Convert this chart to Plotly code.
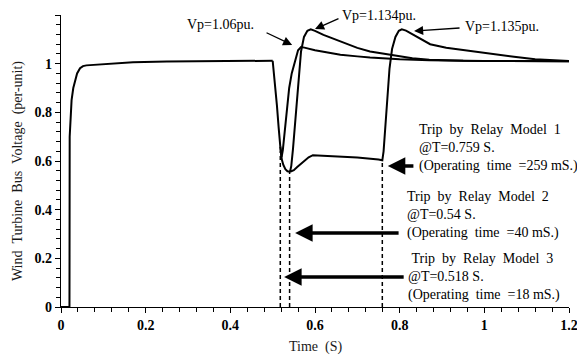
import plotly.graph_objects as go

# ---------------- data ----------------
pre_t = [0, 0.02, 0.0205, 0.022, 0.025, 0.029, 0.033, 0.038, 0.045, 0.052, 0.06, 0.08, 0.116, 0.17, 0.25, 0.35, 0.45, 0.5]
pre_v = [0, 0, 0.70, 0.78, 0.85, 0.90, 0.933, 0.96, 0.981, 0.99, 0.993, 0.995, 0.999, 1.006, 1.009, 1.01, 1.011, 1.012]

drop_t = [0.5, 0.505, 0.51, 0.514, 0.518]
drop_v = [1.012, 0.93, 0.83, 0.74, 0.66]

# Relay model 3 (trip at 0.518 s)
r3_t = [0.518, 0.521, 0.524, 0.528, 0.533, 0.539, 0.545, 0.55, 0.555, 0.56, 0.567, 0.575, 0.6, 0.63, 0.66, 0.7, 0.73, 0.8, 0.87, 1.0, 1.2]
r3_v = [0.66, 0.615, 0.645, 0.72, 0.82, 0.9, 0.96, 0.995, 1.03, 1.055, 1.068, 1.066, 1.055, 1.045, 1.037, 1.03, 1.025, 1.018, 1.014, 1.011, 1.01]

# common part of relay models 1 and 2
c12_t = [0.518, 0.521, 0.525, 0.53, 0.535, 0.541]
c12_v = [0.66, 0.61, 0.585, 0.566, 0.558, 0.556]

# Relay model 2 (trip at 0.54 s)
r2_t = [0.541, 0.544, 0.548, 0.553, 0.558, 0.562, 0.567, 0.574, 0.582, 0.59, 0.6, 0.62, 0.66, 0.7, 0.73, 0.78, 0.83, 0.87, 0.95, 1.2]
r2_v = [0.556, 0.58, 0.65, 0.755, 0.86, 0.96, 1.05, 1.11, 1.135, 1.141, 1.135, 1.118, 1.09, 1.065, 1.05, 1.035, 1.022, 1.016, 1.012, 1.01]

# Relay model 1 (trip at 0.759 s)
r1_t = [0.541, 0.55, 0.558, 0.565, 0.575, 0.585, 0.595, 0.65, 0.7, 0.75, 0.759, 0.762, 0.766, 0.771, 0.776, 0.782, 0.79, 0.798, 0.805, 0.815, 0.832, 0.85, 0.872, 0.91, 0.95, 0.99, 1.03, 1.07, 1.12, 1.2]
r1_v = [0.556, 0.562, 0.575, 0.585, 0.603, 0.615, 0.624, 0.62, 0.614, 0.606, 0.603, 0.64, 0.75, 0.88, 0.98, 1.06, 1.11, 1.135, 1.141, 1.136, 1.12, 1.1, 1.08, 1.065, 1.055, 1.047, 1.037, 1.028, 1.018, 1.011]

trip_times = [0.518, 0.54, 0.759]
trip_volts = [0.64, 0.556, 0.603]

x_ticks = [0, 0.2, 0.4, 0.6, 0.8, 1, 1.2]
x_ticklabels = ["0", "0.2", "0.4", "0.6", "0.8", "1", "1.2"]
y_ticks = [0, 0.2, 0.4, 0.6, 0.8, 1, 1.2]
y_ticklabels = ["0", "0.2", "0.4", "0.6", "0.8", "1", "1.2"]

peak_labels = ["Vp=1.06pu.", "Vp=1.134pu.", "Vp=1.135pu."]
trip_labels = [
    ["Trip  by  Relay  Model  1", "@T=0.759 S.", "(Operating  time  =259 mS.)"],
    ["Trip  by  Relay  Model  2", "@T=0.54 S.", "(Operating  time  =40 mS.)"],
    ["\u00a0Trip  by  Relay  Model  3", "@T=0.518 S.", "(Operating  time  =18 mS.)"],
]

SERIF = "Times New Roman, Liberation Serif, serif"

fig = go.Figure()

line_style = dict(color="black", width=2)
for tx, vy in [(pre_t, pre_v), (drop_t, drop_v), (r3_t, r3_v), (c12_t, c12_v), (r2_t, r2_v), (r1_t, r1_v)]:
    fig.add_trace(go.Scatter(x=tx, y=vy, mode="lines", line=line_style, showlegend=False, hoverinfo="skip"))

for tt, vv in zip(trip_times, trip_volts):
    fig.add_trace(go.Scatter(x=[tt, tt], y=[0, vv], mode="lines",
                             line=dict(color="black", width=1.5, dash="4px,3px"),
                             showlegend=False, hoverinfo="skip"))

def nb(s):
    return s.replace("  ", " \u00a0")

annotations = []
# peak labels
peak_pos = [(0.293, 1.159), (0.659, 1.196), (0.950, 1.151)]
for lab, (px, py) in zip(peak_labels, peak_pos):
    annotations.append(dict(x=px, y=py, xref="x", yref="y", text=lab, showarrow=False,
                            xanchor="left", yanchor="middle",
                            font=dict(family=SERIF, size=14, color="black")))
# peak arrows (tip, tail)
peak_arrows = [((0.546, 1.077), (0.482, 1.130)),
               ((0.600, 1.142), (0.659, 1.188)),
               ((0.834, 1.134), (0.945, 1.147))]
for (tx, ty), (ax, ay) in peak_arrows:
    annotations.append(dict(x=tx, y=ty, ax=ax, ay=ay, xref="x", yref="y", axref="x", ayref="y",
                            text="", showarrow=True, arrowhead=2, arrowsize=1.4, arrowwidth=1.3,
                            arrowcolor="black", standoff=0, startstandoff=0))
# trip text blocks
trip_pos = [(0.842, 0.653), (0.812, 0.378), (0.814, 0.123)]
for lines, (px, py) in zip(trip_labels, trip_pos):
    annotations.append(dict(x=px, y=py, xref="x", yref="y", text="<br>".join(nb(l) for l in lines),
                            showarrow=False, xanchor="left", yanchor="middle", align="left",
                            font=dict(family=SERIF, size=14, color="black")))
# trip arrows
trip_arrows = [((0.772, 0.579), (0.836, 0.579)),
               ((0.553, 0.304), (0.801, 0.304)),
               ((0.527, 0.123), (0.813, 0.123))]
for (tx, ty), (ax, ay) in trip_arrows:
    annotations.append(dict(x=tx, y=ty, ax=ax, ay=ay, xref="x", yref="y", axref="x", ayref="y",
                            text="", showarrow=True, arrowhead=2, arrowsize=1.0, arrowwidth=3.5,
                            arrowcolor="black", standoff=0, startstandoff=0))
# axis titles
annotations.append(dict(x=-0.085, y=0.465, xref="paper", yref="paper", textangle=-90,
                        text=nb("Wind  Turbine  Bus  Voltage  (per-unit)"), showarrow=False,
                        xanchor="center", yanchor="middle",
                        font=dict(family=SERIF, size=14, color="#1a1a1a")))
annotations.append(dict(x=0.502, y=-0.136, xref="paper", yref="paper",
                        text=nb("Time  (S)"), showarrow=False,
                        xanchor="center", yanchor="middle",
                        font=dict(family=SERIF, size=14, color="#1a1a1a")))

axis_common = dict(showgrid=False, zeroline=False, showline=True, linecolor="black", linewidth=1.3,
                   ticks="outside", ticklen=5, tickwidth=1.2, tickcolor="black",
                   tickfont=dict(family=SERIF, size=14, color="black", weight="bold"),
                   minor=dict(dtick=0.04, ticks="outside", ticklen=4, tickwidth=1, tickcolor="black"))

# the page body has an 8px margin, so the figure is sized/offset to compensate
fig.update_layout(
    width=577, height=348,
    margin=dict(l=53, r=16, t=7, b=49),
    paper_bgcolor="white", plot_bgcolor="white",
    annotations=annotations,
    xaxis=dict(range=[0, 1.2], tickvals=x_ticks, ticktext=x_ticklabels, **axis_common),
    yaxis=dict(range=[0, 1.2], tickvals=y_ticks, ticktext=y_ticklabels, **axis_common),
)

fig.write_html("out.html")
